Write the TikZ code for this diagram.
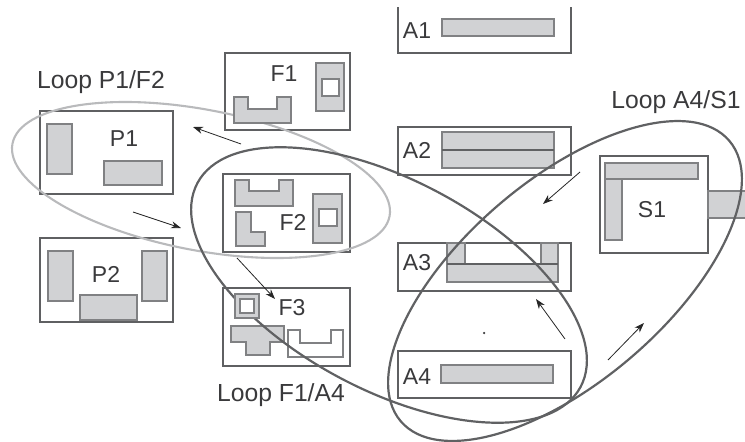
\documentclass[tikz,border=0pt]{standalone}
\usepackage{fontspec}
\setmainfont{Liberation Sans}
\usetikzlibrary{arrows.meta, positioning}
\definecolor{grayA}{HTML}{5F6062}
\definecolor{grayB}{HTML}{D1D2D4}
\definecolor{grayC}{HTML}{808183}
\definecolor{grayD}{HTML}{B9BABC}
\definecolor{grayE}{HTML}{606163}
\definecolor{inkA}{HTML}{3A3A3C}
\tikzset{
  unit/.style={
    draw=grayA, fill=white, line width=1.1pt, outer sep=0pt, inner sep=0pt
  },
  part/.style={draw=grayC, fill=grayB, line width=1.2pt},
  hole/.style={draw=grayC, fill=white, line width=1.2pt},
  loopA/.style={draw=grayD, line width=2.1pt},
  loopB/.style={draw=grayE, line width=2.2pt},
  arrow/.style={-{Stealth[length=3.5mm, width=2.5mm]}, line width=0.8pt, color=black!85},
  tag/.style={font=\fontsize{23}{25}\selectfont, text=inkA, inner sep=0pt},
  looptag/.style={font=\fontsize{24.7}{27}\selectfont, text=inkA, inner sep=0pt}
}
\begin{document}
\begin{tikzpicture}[x=1pt, y=-1pt]
  \useasboundingbox (0,0) rectangle (745,442);
  % boxes
  \node[unit, minimum width=133pt, minimum height=83pt] (P1) at (106.5,152.5) {};
  \node[unit, minimum width=133pt, minimum height=84pt, below=44pt of P1] (P2) {};
  \node[unit, minimum width=125pt, minimum height=77pt] (F1) at (287.5,91.5) {};
  \node[unit, minimum width=127pt, minimum height=78pt] (F2) at (286.5,213) {};
  \node[unit, minimum width=127pt, minimum height=78pt, below=36pt of F2] (F3) {};
  \node[minimum width=173pt, minimum height=46pt, outer sep=0pt, inner sep=0pt] (A1) at (484.5,30) {};
  \draw[grayA, line width=1.1pt] (A1.north west) -- (A1.south west) -- (A1.south east) -- (A1.north east);
  \node[unit, minimum width=173pt, minimum height=48pt] (A2) at (484.5,151) {};
  \node[unit, minimum width=173pt, minimum height=48pt, below=68pt of A2] (A3) {};
  \node[unit, minimum width=173pt, minimum height=47pt, below=60pt of A3] (A4) {};
  \node[unit, minimum width=108pt, minimum height=97pt] (S1) at (654,204.5) {};

  % first loop stays under the parts
  \draw[loopA, rotate around={-10.9:(201,180)}] (201,180) ellipse (192 and 70.3);

  % parts
  \draw[part] (47,124) rectangle (72,174);
  \draw[part] (104,161) rectangle (162,185);
  \draw[part] (48,251) rectangle (73,301);
  \draw[part] (142,251) rectangle (167,301);
  \draw[part] (80,295) rectangle (137,320);
  \draw[part] (316,63) rectangle (344,111);
  \draw[hole] (322,79) rectangle (339,96);
  \draw[part] (234,97) -- (248,97) -- (248,109) -- (277,109) -- (277,97) -- (291,97) -- (291,123) -- (234,123) -- cycle;
  \draw[part] (235,180) -- (249,180) -- (249,191) -- (279,191) -- (279,180) -- (293,180) -- (293,206) -- (235,206) -- cycle;
  \draw[part] (236,212) -- (251,212) -- (251,232) -- (265,232) -- (265,246) -- (236,246) -- cycle;
  \draw[part] (313,194) rectangle (342,243);
  \draw[hole] (319,209) rectangle (337,226);
  \draw[part] (231,326) -- (284,326) -- (284,342) -- (270,342) -- (270,355) -- (246,355) -- (246,342) -- (231,342) -- cycle;
  \draw[hole] (288,330) -- (300,330) -- (300,343) -- (331,343) -- (331,330) -- (343,330) -- (343,357) -- (288,357) -- cycle;
  \draw[part] (442,19) rectangle (554,36);
  \draw[part] (442,132) rectangle (554,150);
  \draw[part] (442,150) rectangle (554,168);
  \draw[grayE, line width=2.2pt] (442,150) -- (554,150);
  \draw[part] (447,243) rectangle (465,264);
  \draw[part] (541,243) rectangle (558,264);
  \draw[part] (447,264) rectangle (558,282);
  \draw[grayE, line width=1.1pt] (447,264) -- (558,264);
  \draw[part] (441,365) rectangle (553,383);
  \draw[part] (605,163) rectangle (698,179);
  \draw[part] (605,179) rectangle (622,240);
  \fill[grayB] (708,191) rectangle (745,218);
  \draw[grayC, line width=1.2pt] (745,191) -- (708,191) -- (708,218) -- (745,218);

  % loops
  \draw[loopB, rotate around={-28:(389,285)}] (389,285) ellipse (217 and 105);
  \draw[loopB, rotate around={40.5:(565,281)}] (565,281) ellipse (216 and 101);

  % the square of F3 covers the loop
  \draw[part] (235,294) rectangle (259,318);
  \draw[hole] (240,299) rectangle (254,313);

  % labels
  \node[tag] (tagP1) at (124,139) {P1};
  \node[tag] (tagP2) at (106,274) {P2};
  \node[tag] (tagF1) at (284,74) {F1};
  \node[tag] (tagF2) at (293,222) {F2};
  \node[tag] (tagF3) at (292,308) {F3};
  \node[tag] (tagA1) at (417,31) {A1};
  \node[tag] (tagA2) at (417,150) {A2};
  \node[tag] (tagA3) at (417,263) {A3};
  \node[tag] (tagA4) at (417,377) {A4};
  \node[tag] (tagS1) at (652,210) {S1};
  \node[looptag] (loopPF) at (101,82) {Loop P1/F2};
  \node[looptag] (loopFA) at (281,395) {Loop F1/A4};
  \node[looptag] (loopAS) at (676,102) {Loop A4/S1};
  \node[circle, fill=inkA, inner sep=0pt, minimum size=2.5pt] (dot) at (484,333) {};

  % arrows
  \coordinate (a1s) at (241,144);
  \coordinate (a1e) at (193,127);
  \coordinate (a2s) at (133,212);
  \coordinate (a2e) at (181,228);
  \coordinate (a3s) at (237,258);
  \coordinate (a3e) at (275,299);
  \coordinate (a4s) at (580,172);
  \coordinate (a4e) at (543,204);
  \coordinate (a5s) at (565,339);
  \coordinate (a5e) at (536,299);
  \coordinate (a6s) at (608,360);
  \coordinate (a6e) at (644,323);
  \draw[arrow] (a1s) -- (a1e);
  \draw[arrow] (a2s) -- (a2e);
  \draw[arrow] (a3s) -- (a3e);
  \draw[arrow] (a4s) -- (a4e);
  \draw[arrow] (a5s) -- (a5e);
  \draw[arrow] (a6s) -- (a6e);
\end{tikzpicture}
\end{document}
